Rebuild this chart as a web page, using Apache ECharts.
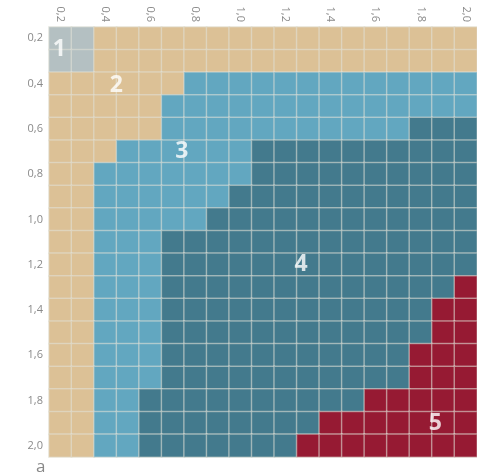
<!DOCTYPE html>
<html>
<head>
<meta charset="utf-8">
<script src="https://cdn.jsdelivr.net/npm/echarts@6/dist/echarts.min.js"></script>
<style>
  html, body { margin: 0; padding: 0; background: #fff; }
  #chart { width: 477px; height: 473px; }
</style>
</head>
<body>
<div id="chart"></div>
<script>
// axis categories (decimal comma, as in the original)
var xCats = ["0,2", "0,3", "0,4", "0,5", "0,6", "0,7", "0,8", "0,9", "1,0", "1,1",
  "1,2", "1,3", "1,4", "1,5", "1,6", "1,7", "1,8", "1,9", "2,0"];
var yCats = xCats.slice();

// zone of every cell, one row per y category (top to bottom)
var zones = [
  [1, 1, 2, 2, 2, 2, 2, 2, 2, 2, 2, 2, 2, 2, 2, 2, 2, 2, 2],
  [1, 1, 2, 2, 2, 2, 2, 2, 2, 2, 2, 2, 2, 2, 2, 2, 2, 2, 2],
  [2, 2, 2, 2, 2, 2, 3, 3, 3, 3, 3, 3, 3, 3, 3, 3, 3, 3, 3],
  [2, 2, 2, 2, 2, 3, 3, 3, 3, 3, 3, 3, 3, 3, 3, 3, 3, 3, 3],
  [2, 2, 2, 2, 2, 3, 3, 3, 3, 3, 3, 3, 3, 3, 3, 3, 4, 4, 4],
  [2, 2, 2, 3, 3, 3, 3, 3, 3, 4, 4, 4, 4, 4, 4, 4, 4, 4, 4],
  [2, 2, 3, 3, 3, 3, 3, 3, 3, 4, 4, 4, 4, 4, 4, 4, 4, 4, 4],
  [2, 2, 3, 3, 3, 3, 3, 3, 4, 4, 4, 4, 4, 4, 4, 4, 4, 4, 4],
  [2, 2, 3, 3, 3, 3, 3, 4, 4, 4, 4, 4, 4, 4, 4, 4, 4, 4, 4],
  [2, 2, 3, 3, 3, 4, 4, 4, 4, 4, 4, 4, 4, 4, 4, 4, 4, 4, 4],
  [2, 2, 3, 3, 3, 4, 4, 4, 4, 4, 4, 4, 4, 4, 4, 4, 4, 4, 4],
  [2, 2, 3, 3, 3, 4, 4, 4, 4, 4, 4, 4, 4, 4, 4, 4, 4, 4, 5],
  [2, 2, 3, 3, 3, 4, 4, 4, 4, 4, 4, 4, 4, 4, 4, 4, 4, 5, 5],
  [2, 2, 3, 3, 3, 4, 4, 4, 4, 4, 4, 4, 4, 4, 4, 4, 4, 5, 5],
  [2, 2, 3, 3, 3, 4, 4, 4, 4, 4, 4, 4, 4, 4, 4, 4, 5, 5, 5],
  [2, 2, 3, 3, 3, 4, 4, 4, 4, 4, 4, 4, 4, 4, 4, 4, 5, 5, 5],
  [2, 2, 3, 3, 4, 4, 4, 4, 4, 4, 4, 4, 4, 4, 5, 5, 5, 5, 5],
  [2, 2, 3, 3, 4, 4, 4, 4, 4, 4, 4, 4, 5, 5, 5, 5, 5, 5, 5],
  [2, 2, 3, 3, 4, 4, 4, 4, 4, 4, 4, 5, 5, 5, 5, 5, 5, 5, 5]
];

// zone number labels and the cell each one sits on [xIndex, yIndex]
var zoneNames = ["1", "2", "3", "4", "5"];
var zoneCells = [[0, 0], [2, 2], [5, 5], [11, 10], [17, 17]];

var zoneColors = ["#b4c0c2", "#dcc196", "#62a7c0", "#437a8d", "#961a33"];
// small nudges so the numbers sit where the original has them
var labelNudge = [[-1, 11], [11, 2], [9, 0], [-7, 0], [-8, 0]];

var cells = [];
zones.forEach(function(row, yi) {
  row.forEach(function(z, xi) {
    cells.push([xi, yi, z]);
  });
});

var labelData = zoneNames.map(function(name, i) {
  return {
    name: name,
    value: zoneCells[i],
    label: { offset: labelNudge[i] }
  };
});

var chart = echarts.init(document.getElementById("chart"));
var axisText = { color: "#8a8a8a", fontSize: 11, fontFamily: "Open Sans" };

chart.setOption({
  animation: false,
  title: {
    text: "a",
    left: 31,
    top: 454,
    textStyle: { color: "#888", fontSize: 17, fontWeight: "normal", fontFamily: "Open Sans" }
  },
  grid: { left: 49, top: 27, width: 431, height: 430 },
  xAxis: {
    type: "category",
    position: "top",
    data: xCats,
    axisLine: { show: false },
    axisTick: { show: false },
    splitLine: { show: false },
    axisLabel: Object.assign({ interval: 1, rotate: 90, margin: 5 }, axisText)
  },
  yAxis: {
    type: "category",
    inverse: true,
    data: yCats,
    axisLine: { show: false },
    axisTick: { show: false },
    splitLine: { show: false },
    axisLabel: Object.assign({ interval: 1, margin: 6 }, axisText)
  },
  visualMap: {
    show: false,
    type: "piecewise",
    dimension: 2,
    pieces: zoneColors.map(function(c, i) {
      return { value: i + 1, color: c };
    })
  },
  series: [
    {
      type: "heatmap",
      data: cells,
      itemStyle: { borderColor: "rgba(225,225,215,0.5)", borderWidth: 1.5 },
      emphasis: { disabled: true }
    },
    {
      type: "scatter",
      symbolSize: 0,
      data: labelData,
      z: 10,
      label: {
        show: true,
        position: "inside",
        formatter: "{b}",
        color: "#fff",
        fontSize: 23,
        fontWeight: "bold",
        fontFamily: "Open Sans"
      }
    }
  ]
});
</script>
</body>
</html>
